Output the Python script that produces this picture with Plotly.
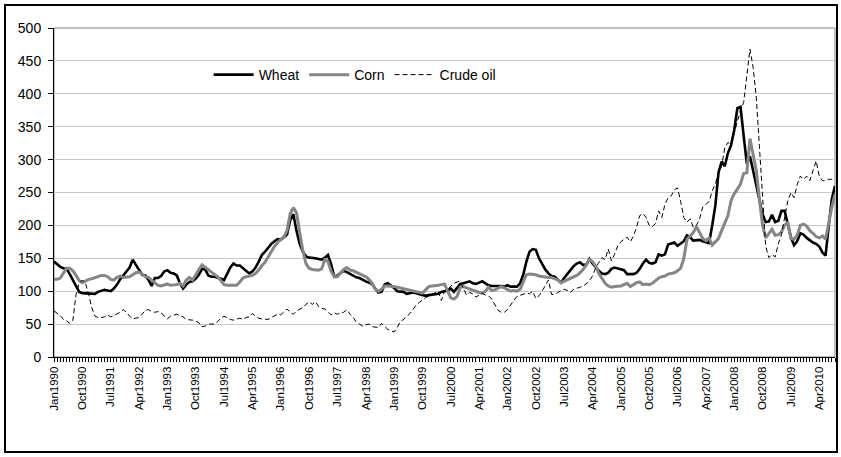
import plotly.graph_objects as go

month_abbr = ["Jan", "Feb", "Mar", "Apr", "May", "Jun", "Jul", "Aug", "Sep", "Oct", "Nov", "Dec"]

wheat = [
    145, 141, 137, 135, 134, 126, 117, 106, 99, 97, 97, 97,
    97, 96, 99, 101, 102, 101, 100, 104, 110, 118, 125, 130,
    136, 148, 140, 132, 125, 124, 117, 108, 120, 120, 123, 130,
    132, 128, 127, 124, 112, 104, 110, 114, 115, 119, 125, 134,
    133, 124, 122, 122, 121, 119, 117, 127, 136, 142, 139, 139,
    135, 131, 127, 130, 136, 145, 155, 160, 166, 172, 176, 179,
    178, 182, 186, 208, 217, 192, 172, 160, 153, 151, 151, 150,
    149, 148, 151, 155, 141, 122, 124, 128, 131, 129, 126, 124,
    121, 120, 117, 115, 113, 111, 104, 98, 99, 110, 112, 109,
    105, 100, 99, 99, 96, 97, 98, 97, 96, 95, 93, 94,
    95, 95, 96, 99, 100, 101, 104, 99, 105, 111, 112, 113,
    115, 112, 111, 113, 115, 112, 109, 108, 108, 109, 108, 107,
    109, 107, 107, 107, 112, 125, 145, 160, 164, 163, 150, 141,
    133, 127, 123, 122, 117, 113, 120, 127, 132, 138, 142, 144,
    140, 140, 149, 142, 136, 131, 127, 126, 128, 134, 136, 135,
    134, 132, 126, 126, 126, 128, 134, 142, 148, 143, 142, 144,
    156, 154, 156, 171, 173, 174, 169, 172, 176, 185, 182, 177,
    177, 178, 176, 175, 173, 200, 230, 280, 297, 290, 310, 322,
    345, 378, 380, 336, 294, 305, 282, 262, 240, 217, 205, 206,
    216, 205, 207, 222, 222, 200, 182, 170, 176, 188, 186, 181,
    177, 174, 172, 168, 159, 154, 199, 240, 260,
]

corn = [
    118, 118, 120, 128, 135, 135, 131, 124, 116, 113, 116, 118,
    119, 121, 122, 124, 124, 122, 118, 117, 121, 123, 121, 121,
    122, 125, 128, 129, 125, 122, 121, 117, 112, 109, 108, 109,
    111, 109, 109, 110, 112, 108, 117, 121, 117, 124, 133, 140,
    137, 133, 129, 126, 122, 116, 110, 109, 109, 109, 109, 114,
    120, 122, 123, 124, 127, 132, 139, 144, 152, 161, 168, 174,
    178, 183, 192, 218, 227, 219, 190, 162, 142, 135, 133, 132,
    132, 134, 148, 145, 130, 122, 122, 128, 133, 136, 132, 131,
    129, 127, 125, 122, 118, 112, 103, 100, 103, 108, 108, 108,
    107, 106, 105, 104, 103, 101, 100, 100, 99, 97, 102, 107,
    108, 108, 109, 110, 111, 100, 90, 88, 92, 106, 107, 105,
    103, 101, 99, 98, 97, 100, 106, 101, 102, 104, 107, 105,
    103, 100, 101, 100, 103, 115, 125, 126, 126, 125, 123, 122,
    121, 121, 121, 119, 117, 113, 115, 117, 119, 121, 124, 128,
    133, 140, 148, 145, 138, 127, 120, 112, 108, 106, 107, 107,
    108, 110, 112, 107, 110, 113, 114, 110, 111, 110, 112, 116,
    120, 122, 123, 126, 127, 128, 131, 135, 150, 179, 184, 189,
    198, 190, 180, 177, 181, 170, 175, 180, 192, 205, 215, 238,
    248, 255, 263, 279, 280, 332, 305, 283, 240, 200, 181, 187,
    194, 185, 186, 190, 200, 205, 180, 179, 185, 200, 202, 199,
    192, 188, 183, 181, 184, 179, 205, 228, 247,
]

crude_oil = [
    70, 67, 63, 57, 55, 51, 56, 95, 112, 117, 112, 95,
    75, 62, 60, 60, 61, 64, 61, 63, 65, 68, 72, 68,
    62, 58, 59, 60, 65, 71, 72, 69, 68, 69, 67, 63,
    58, 62, 64, 65, 63, 61, 57, 57, 56, 55, 52, 46,
    47, 50, 50, 50, 54, 59, 62, 59, 57, 56, 58, 59,
    57, 60, 61, 66, 62, 59, 58, 58, 57, 60, 63, 65,
    64, 68, 73, 68, 65, 70, 73, 75, 80, 84, 80, 84,
    77, 74, 73, 68, 64, 67, 65, 67, 68, 72, 65, 60,
    53, 50, 47, 49, 50, 46, 45, 45, 51, 47, 42, 40,
    38, 45, 54, 57, 61, 66, 72, 79, 83, 87, 90, 93,
    95, 97, 100, 86, 100, 103, 107, 112, 114, 115, 104, 94,
    98, 96, 91, 94, 97, 94, 93, 88, 80, 71, 68, 68,
    72, 80, 86, 92, 94, 95, 97, 96, 100, 89, 93, 100,
    108, 117, 95, 95, 98, 100, 103, 101, 98, 103, 104, 106,
    108, 111, 116, 123, 136, 144, 151, 148, 164, 146, 156, 169,
    175, 179, 182, 175, 184, 197, 215, 218, 212, 200, 198, 203,
    222, 212, 232, 242, 245, 254, 257, 236, 212, 205, 210, 197,
    200, 210, 228, 232, 236, 252, 263, 280, 290, 318, 326, 323,
    340, 358, 375, 387, 430, 468, 440, 395, 320, 245, 168, 151,
    156, 152, 172, 186, 212, 237, 250, 242, 262, 275, 270, 275,
    268, 285, 298, 275, 268, 268, 270, 270, 268,
]

months = [f"{month_abbr[k % 12]}{1990 + k // 12}" for k in range(len(wheat))]
tick_labels = [m if k % 9 == 0 else "" for k, m in enumerate(months)]

FONT = "Liberation Sans, Arial, sans-serif"

fig = go.Figure()
fig.add_trace(go.Scatter(x=months, y=wheat, name="Wheat", mode="lines",
                         line=dict(color="#000000", width=2.6)))
fig.add_trace(go.Scatter(x=months, y=corn, name="Corn", mode="lines",
                         line=dict(color="#868686", width=3)))
fig.add_trace(go.Scatter(x=months, y=crude_oil, name="Crude oil", mode="lines",
                         line=dict(color="#000000", width=1, dash="5px,3px")))

fig.update_layout(
    width=841, height=457,
    margin=dict(l=54, r=6, t=28, b=100),
    paper_bgcolor="white", plot_bgcolor="white",
    font=dict(family=FONT, size=14, color="black"),
    showlegend=True,
    legend=dict(orientation="h", x=0.198, y=0.857, xanchor="left", yanchor="middle",
                bgcolor="rgba(0,0,0,0)", font=dict(size=14), itemwidth=40,
                traceorder="normal"),
    xaxis=dict(type="category", range=[0, len(months) - 1], tickmode="array",
               tickvals=months, ticktext=tick_labels, tickangle=-90,
               ticks="outside", ticklen=4, tickwidth=1, tickcolor="black",
               showgrid=False, showline=True, linecolor="black", linewidth=1,
               tickfont=dict(size=11.5), zeroline=False, automargin=False),
    yaxis=dict(range=[0, 500], dtick=50, tick0=0, ticks="outside", ticklen=5,
               tickwidth=1, tickcolor="black", showgrid=True, gridcolor="#c8c8c8",
               gridwidth=1, showline=True, linecolor="black", linewidth=1,
               zeroline=False, tickfont=dict(size=14), automargin=False,
               ticklabelstandoff=4),
    shapes=[
        dict(type="rect", xref="paper", yref="paper", x0=0, x1=1, y0=0, y1=1,
             line=dict(color="#808080", width=1), layer="between"),
        dict(type="rect", xref="paper", yref="paper",
             x0=(5 - 54) / 781, x1=(837 - 54) / 781,
             y0=1 - (452 - 28) / 329, y1=1 + 23 / 329,
             line=dict(color="black", width=2), layer="below"),
    ],
)

fig.write_html("out.html", config={"displayModeBar": False},
               post_script="document.body.style.margin='0px';document.body.style.overflow='hidden';")
